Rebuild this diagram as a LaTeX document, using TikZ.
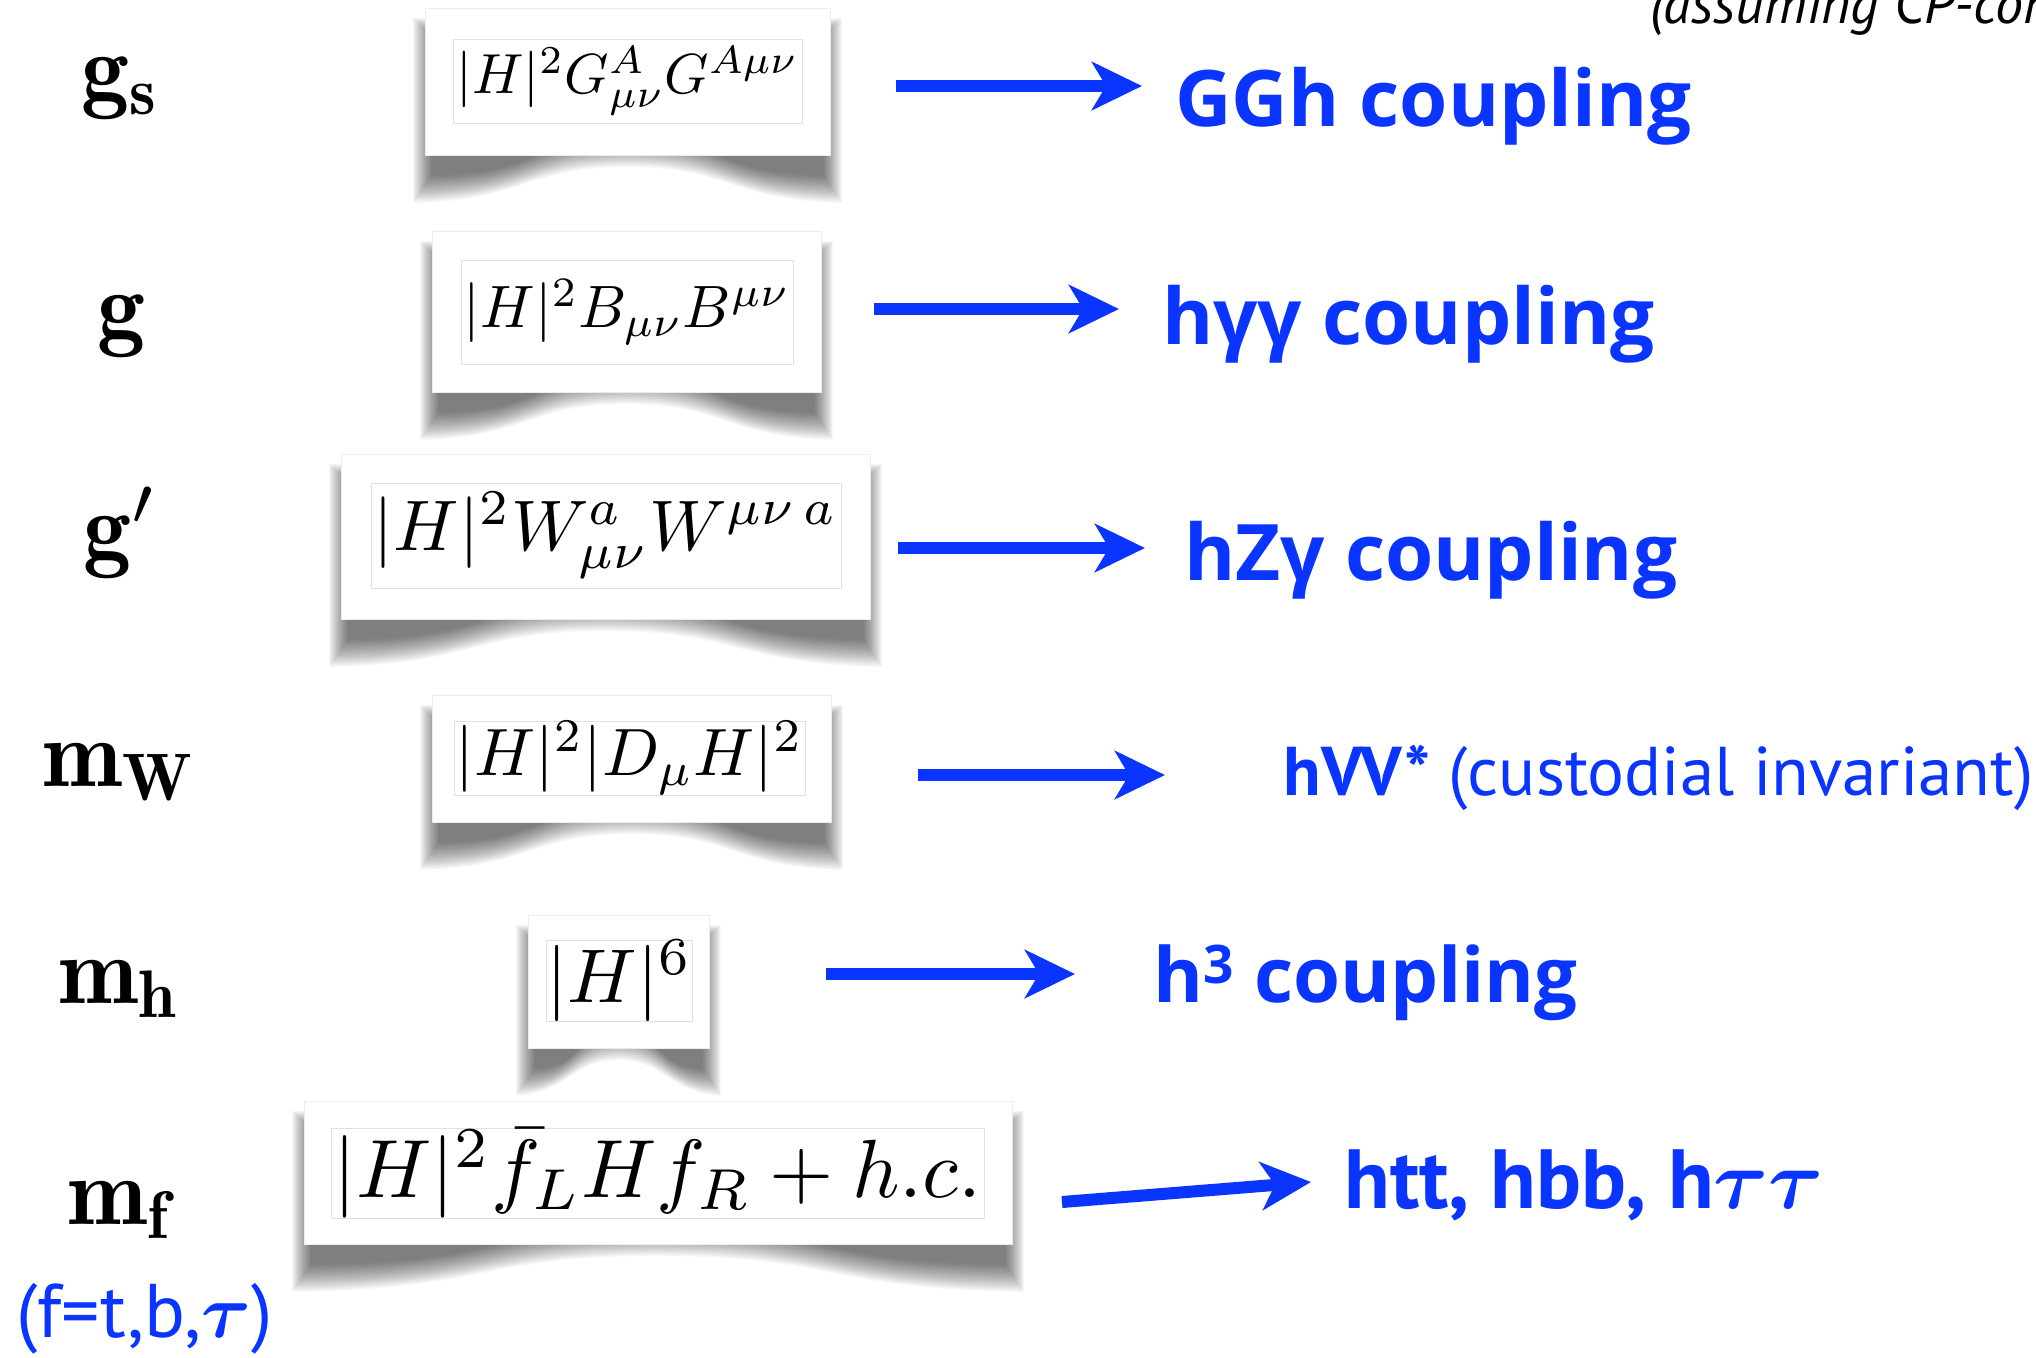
\documentclass[tikz,border=0pt]{standalone}
\usepackage{amsmath}
\usepackage{graphicx}
\usepackage{fontspec}
\usetikzlibrary{arrows.meta}
\newfontfamily\headfont{Open Sans}
\newfontfamily\gillfont{PT Sans}
\definecolor{blu}{RGB}{10,52,255}

% math set at 10pt and magnified, so any size is available
\newcommand\bigmath[2]{{\fontsize{10}{12}\selectfont\scalebox{#1}{$#2$}}}

% soft curved drop shadow under a card: x0, y0, x1, y1 (pixel units, y down)
\newcommand\cardshadow[4]{%
  \foreach \d in {0,...,17}{%
    \pgfmathsetmacro\shxl{#1-12+1.1*\d}%
    \pgfmathsetmacro\shxr{#3+12-1.1*\d}%
    \pgfmathsetmacro\shyt{#2+10+\d}%
    \pgfmathsetmacro\shyc{#4+48-1.6*\d}%
    \pgfmathsetmacro\shym{#4+12-1.6*\d}%
    \pgfmathsetmacro\shxm{(#1+#3)/2}%
    \pgfmathsetmacro\shw{#3-#1}%
    \fill[black,opacity=0.034] (\shxl,\shyt) -- (\shxr,\shyt) -- (\shxr,\shyc)
      .. controls (\shxr-0.28*\shw,\shyc-3) and (\shxm+0.25*\shw,\shym) .. (\shxm,\shym)
      .. controls (\shxm-0.25*\shw,\shym) and (\shxl+0.28*\shw,\shyc-3) .. (\shxl,\shyc) -- cycle;
  }}

% white card with a thin frame around the operator
\newcommand\card[4]{%
  \cardshadow{#1}{#2}{#3}{#4}%
  \fill[white] (#1,#2) rectangle (#3,#4);
  \draw[black!7,line width=0.4pt] (#1,#2) rectangle (#3,#4);
}

\tikzset{
  arr/.style={draw=blu, line width=6pt, -{Stealth[length=25pt,width=24pt,inset=7pt]}},
  coup/.style={anchor=base west, text=blu, inner sep=0pt,
    font=\headfont\bfseries\fontsize{39}{44}\selectfont},
  gill/.style={anchor=base west, text=blu, inner sep=0pt,
    font=\gillfont\fontsize{34.5}{40}\selectfont},
  param/.style={anchor=base, inner sep=0pt},
  opframe/.style={draw=black!12, line width=0.5pt, inner sep=0pt, fill=white},
}

\begin{document}
\begin{tikzpicture}[x=0.5pt,y=-0.5pt]
\useasboundingbox (0,0) rectangle (2036,1357);
\fill[white] (0,0) rectangle (2036,1357);
\clip (0,0) rectangle (2036,1357);

% caption running off the top edge
\node[anchor=base west, inner sep=0pt, font=\gillfont\itshape\fontsize{28}{32}\selectfont] (note) at (1650,23) {(assuming CP-con};

% parameters
\node[param] (ps) at (121,100) {\bigmath{4.8}{\mathbf{g_s}}};
\node[param] (pg) at (121,338) {\bigmath{4.8}{\mathbf{g}}};
\node[param] (pgp) at (121,559) {\bigmath{4.8}{\mathbf{g}'}};
\node[param] (pmw) at (120,786) {\bigmath{4.8}{\mathbf{m_W}}};
\node[param] (pmh) at (120,1003) {\bigmath{4.8}{\mathbf{m_h}}};
\node[param] (pmf) at (120,1224) {\bigmath{4.8}{\mathbf{m_f}}};
\node[gill, font=\gillfont\fontsize{38}{44}\selectfont] (fnote) at (16,1337) {(f=t,b,\bigmath{3.8}{\boldsymbol{\tau}})};

% operator cards
\card{425}{8}{830}{155}
\node[opframe, minimum width=174.5pt, minimum height=42pt] (op1) at (627.5,81)
  {\resizebox{171pt}{!}{$|H|^2G^A_{\mu\nu}G^{A\mu\nu}$}};

\card{432}{231}{821}{392}
\node[opframe, minimum width=166pt, minimum height=52pt] (op2) at (627,312)
  {\resizebox{163pt}{!}{$|H|^2B_{\mu\nu}B^{\mu\nu}$}};

\card{341}{454}{870}{619}
\node[opframe, minimum width=235pt, minimum height=52.5pt] (op3) at (606,535.5)
  {\resizebox{232pt}{!}{$|H|^2W^a_{\mu\nu}W^{\mu\nu\,a}$}};

\card{432}{695}{831}{822}
\node[opframe, minimum width=175.5pt, minimum height=37pt] (op4) at (629.5,758)
  {\resizebox{174pt}{!}{$|H|^2|D_\mu H|^2$}};

\card{528}{915}{709}{1048}
\node[opframe, minimum width=62.5pt, minimum height=36pt] (op5) at (619.5,981)
  {\resizebox{!}{31pt}{$|H|^6$}};

\card{304}{1101}{1012}{1244}
\node[opframe, minimum width=326.5pt, minimum height=43.5pt] (op6) at (657.5,1173.5)
  {\resizebox{324pt}{!}{$|H|^2\bar f_LHf_R+h.c.$}};

% couplings
\node[coup] (c1) at (1175,126) {GGh coupling};
\node[coup] (c2) at (1162,344) {hγγ coupling};
\node[coup] (c3) at (1184,580) {hZγ coupling};
\node[gill] (c4) at (1283,795) {\textbf{hVV*} (custodial invariant)};
\node[coup, font=\headfont\bfseries\fontsize{38}{44}\selectfont] (c5) at (1153,1002) {h\textsuperscript{3} coupling};
\node[gill, font=\gillfont\bfseries\fontsize{42}{48}\selectfont] (c6) at (1344,1208) {htt, hbb, h\bigmath{4.2}{\boldsymbol{\tau\tau}}};

% arrows
\coordinate (a1s) at (896,86);   \coordinate (a1e) at (1142,86);
\coordinate (a2s) at (874,309);  \coordinate (a2e) at (1119,309);
\coordinate (a3s) at (898,548);  \coordinate (a3e) at (1145,548);
\coordinate (a4s) at (918,775);  \coordinate (a4e) at (1165,775);
\coordinate (a5s) at (826,974);  \coordinate (a5e) at (1075,974);
\coordinate (a6s) at (1062,1202); \coordinate (a6e) at (1311,1182);
\draw[arr] (a1s) -- (a1e);
\draw[arr] (a2s) -- (a2e);
\draw[arr] (a3s) -- (a3e);
\draw[arr] (a4s) -- (a4e);
\draw[arr] (a5s) -- (a5e);
\draw[arr] (a6s) -- (a6e);
\end{tikzpicture}
\end{document}
